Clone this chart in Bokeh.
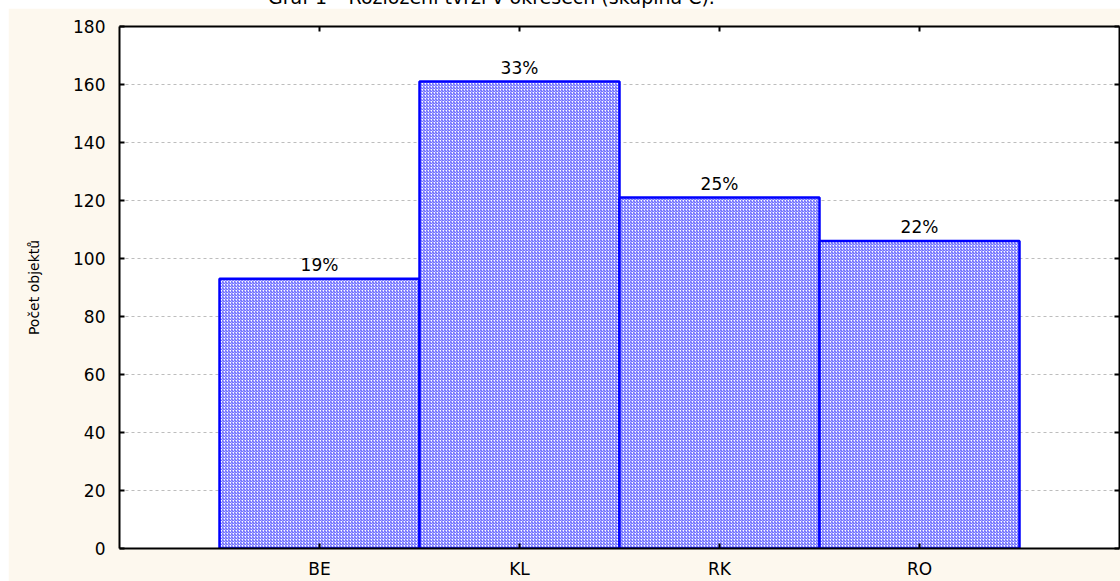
from bokeh.plotting import figure
from bokeh.models import Range1d, LinearAxis, FixedTicker, ColumnDataSource, Div, Grid
from bokeh.layouts import column
from bokeh.embed import file_html
from bokeh.resources import INLINE
from bokeh.core.properties import value

# ---- data ----
categories = ["BE", "KL", "RK", "RO"]
counts = [93, 161, 121, 106]
pct_labels = ["19%", "33%", "25%", "22%"]
y_ticks = [0, 20, 40, 60, 80, 100, 120, 140, 160, 180]
title_text = "Graf 1 – Rozložení tvrzí v okresech (skupina C)."
y_label = "Počet objektů"

FONT = "DejaVu Sans"
CREAM = "#fdf8ee"

xs = list(range(1, len(categories) + 1))
src = ColumnDataSource(dict(x=xs, top=counts, cat=categories, pct=pct_labels))

p = figure(width=1112, height=573, output_backend="svg", toolbar_location=None,
           x_range=Range1d(0, len(categories) + 1), y_range=Range1d(0, 180),
           min_border_left=111, min_border_right=1, min_border_top=18, min_border_bottom=32,
           x_axis_location=None, y_axis_location=None)
p.margin = (8, 0, 0, 8)
p.border_fill_color = CREAM
p.background_fill_color = "white"
p.outline_line_color = None
for g in p.grid:
    g.visible = False

label_map = {x: c for x, c in zip(xs, categories)}


def style_axis(ax):
    ax.axis_line_color = "black"
    ax.axis_line_width = 2
    ax.major_tick_in = 5
    ax.major_tick_out = 0
    ax.major_tick_line_color = "black"
    ax.major_tick_line_width = 2
    ax.minor_tick_line_color = None
    ax.major_label_text_font = FONT
    ax.major_label_text_font_size = "17px"
    ax.major_label_text_color = "black"


left = LinearAxis(ticker=FixedTicker(ticks=y_ticks), axis_label=y_label)
style_axis(left)
left.major_label_standoff = 14
left.axis_label_text_font = FONT
left.axis_label_text_font_size = "14px"
left.axis_label_text_font_style = "normal"
left.axis_label_text_color = "black"
left.axis_label_standoff = 28
p.add_layout(left, "left")

right = LinearAxis(ticker=FixedTicker(ticks=y_ticks))
style_axis(right)
right.major_label_text_font_size = "0px"
right.major_label_standoff = 0
right.major_label_overrides = {t: "" for t in y_ticks}
p.add_layout(right, "right")

bottom = LinearAxis(ticker=FixedTicker(ticks=xs), major_label_overrides=label_map)
style_axis(bottom)
bottom.major_label_standoff = 10
p.add_layout(bottom, "below")

top = LinearAxis(ticker=FixedTicker(ticks=xs))
style_axis(top)
top.major_label_text_font_size = "0px"
top.major_label_standoff = 0
top.major_label_overrides = {x: "" for x in xs}
p.add_layout(top, "above")

grid = Grid(dimension=1, ticker=FixedTicker(ticks=y_ticks[1:-1]))
grid.grid_line_color = "#bdbdbd"
grid.grid_line_dash = "3 3"
grid.grid_line_width = 1
p.add_layout(grid)

p.vbar(x="x", top="top", bottom=0, width=1, source=src,
       fill_color="white", line_color="#0000ff", line_width=2.5,
       hatch_pattern="/", hatch_color="#4a4aff", hatch_scale=3, hatch_weight=1)

p.text(x="x", y="top", text="pct", source=src, text_align="center", text_baseline="bottom",
       y_offset=-4, text_font=value(FONT), text_font_size="17px", text_color="black")

title_div = Div(
    text=('<div style="position:relative; top:-12px; left:268px; white-space:nowrap; '
          "font-family:'DejaVu Sans'; font-size:19px; line-height:19px; color:#000;\">"
          + title_text + "</div>"),
    width=1112, height=0, margin=0)

layout = column(title_div, p, spacing=0)

open("out.html", "w").write(file_html(layout, INLINE))
